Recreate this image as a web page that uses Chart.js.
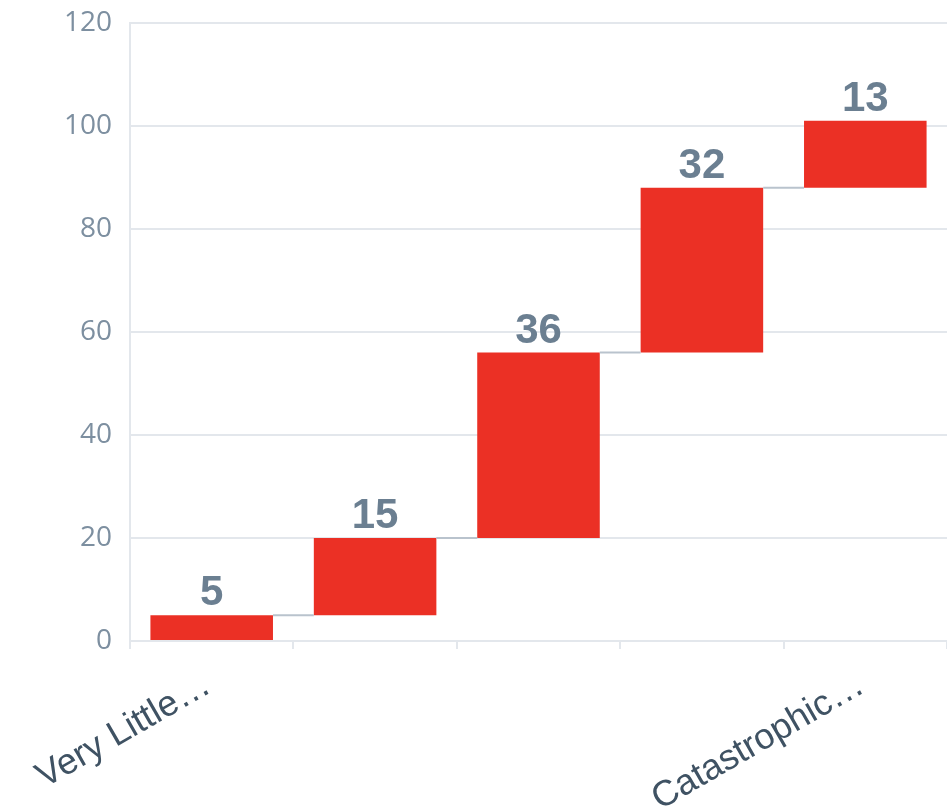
<!DOCTYPE html>
<html>
<head>
    <title>Impact Waterfall</title>
    <script src="https://cdn.jsdelivr.net/npm/chart.js@4.4.1/dist/chart.umd.min.js"></script>
    <style>
        html, body { margin: 0; padding: 0; background: #ffffff; overflow: hidden; }
        #wrap { width: 947px; height: 819px; margin-top: -12px; }
    </style>
</head>
<body>
    <div id="wrap"><canvas id="waterfallChart"></canvas></div>

    <script>
        // Categories and step sizes of the waterfall
        var categories = ['Very Little Impact', 'Minor Impact', 'Moderate Impact', 'Major Impact', 'Catastrophic Impact'];
        var tickLabels = ['Very Little…', '', '', '', 'Catastrophic…'];
        var stepValues = [5, 15, 36, 32, 13];
        var yTicks = [0, 20, 40, 60, 80, 100, 120];

        // Build floating [start, end] ranges from the running total
        var ranges = [];
        var running = 0;
        for (var i = 0; i < stepValues.length; i++) {
            ranges.push([running, running + stepValues[i]]);
            running += stepValues[i];
        }

        // Thin lines joining each bar top to the next bar
        var connectorPlugin = {
            id: 'connectors',
            afterDatasetsDraw: function (chart) {
                var meta = chart.getDatasetMeta(0);
                var yScale = chart.scales.y;
                var ctx = chart.ctx;
                ctx.save();
                ctx.strokeStyle = '#b9c3cd';
                ctx.lineWidth = 2;
                for (var i = 0; i < meta.data.length - 1; i++) {
                    var a = meta.data[i], b = meta.data[i + 1];
                    var y = yScale.getPixelForValue(ranges[i][1]);
                    ctx.beginPath();
                    ctx.moveTo(a.x + a.width / 2, y);
                    ctx.lineTo(b.x - b.width / 2, y);
                    ctx.stroke();
                }
                ctx.restore();
            }
        };

        // Step value printed above every bar
        var valueLabelPlugin = {
            id: 'valueLabels',
            afterDatasetsDraw: function (chart) {
                var meta = chart.getDatasetMeta(0);
                var yScale = chart.scales.y;
                var ctx = chart.ctx;
                ctx.save();
                ctx.font = 'bold 42px "Liberation Sans", Arial, sans-serif';
                ctx.fillStyle = '#6b7f91';
                ctx.textAlign = 'center';
                ctx.textBaseline = 'alphabetic';
                meta.data.forEach(function (bar, i) {
                    var top = yScale.getPixelForValue(ranges[i][1]);
                    ctx.fillText(String(stepValues[i]), bar.x, top - 10);
                });
                ctx.restore();
            }
        };

        var ctx = document.getElementById('waterfallChart').getContext('2d');
        var chart = new Chart(ctx, {
            type: 'bar',
            data: {
                labels: categories,
                datasets: [{
                    data: ranges,
                    backgroundColor: '#eb3025',
                    borderWidth: 0,
                    categoryPercentage: 1.0,
                    barPercentage: 0.75
                }]
            },
            options: {
                responsive: true,
                maintainAspectRatio: false,
                animation: false,
                layout: { padding: { top: 1, right: 0, left: 0, bottom: 0 } },
                plugins: {
                    legend: { display: false },
                    tooltip: { enabled: false }
                },
                scales: {
                    x: {
                        offset: true,
                        grid: {
                            display: true,
                            drawOnChartArea: false,
                            color: '#e3e7ec',
                            lineWidth: 2,
                            tickLength: 8
                        },
                        border: { display: false },
                        ticks: {
                            autoSkip: false,
                            minRotation: 30,
                            maxRotation: 30,
                            padding: 15,
                            labelOffset: -4,
                            color: '#3f5263',
                            font: { family: '"Liberation Sans", Arial, sans-serif', size: 36 },
                            callback: function (value, index) { return tickLabels[index]; }
                        },
                        afterFit: function (scale) { scale.height = 166; }
                    },
                    y: {
                        min: 0,
                        max: 120,
                        afterBuildTicks: function (scale) {
                            scale.ticks = yTicks.map(function (v) { return { value: v }; });
                        },
                        grid: {
                            color: '#e3e7ec',
                            lineWidth: 2,
                            drawTicks: false
                        },
                        border: { display: true, color: '#e3e7ec', width: 2 },
                        ticks: {
                            padding: 18,
                            color: '#7d8fa0',
                            font: { family: '"Open Sans", sans-serif', size: 28 }
                        },
                        afterFit: function (scale) { scale.width = 130; }
                    }
                }
            },
            plugins: [connectorPlugin, valueLabelPlugin]
        });
    </script>
</body>
</html>
